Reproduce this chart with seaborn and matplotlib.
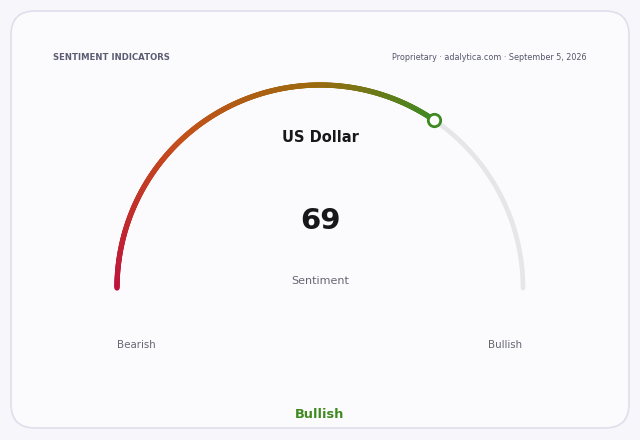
import numpy as np
import matplotlib
matplotlib.use("Agg")
import matplotlib.pyplot as plt
import seaborn as sns
from matplotlib.collections import LineCollection
from matplotlib.colors import LinearSegmentedColormap
from matplotlib.patches import FancyBboxPatch

# data
title = "SENTIMENT INDICATORS"
source = "Proprietary · adalytica.com · September 5, 2026"
asset = "US Dollar"
metric = "Sentiment"
value = 69
scale_min, scale_max = 0, 100
end_labels = ["Bearish", "Bullish"]
verdict = "Bullish"

grad_stops = [0.0, 0.38, 0.72, 1.0]
grad_colors = ["#be123c", "#c4501a", "#9c6a0e", "#3d8a22"]
bg = "#f7f7fb"
card = "#fbfbfe"

sns.set_theme(style="white")
plt.rcParams['font.family'] = ['DejaVu Sans']

fig = plt.figure(figsize=(6.4, 4.4), dpi=100, facecolor=bg)
ax = fig.add_axes([0, 0, 1, 1])
ax.set_xlim(0, 640)
ax.set_ylim(440, 0)
ax.set_facecolor(bg)
ax.axis("off")

ax.add_patch(FancyBboxPatch((11, 11), 618, 417, boxstyle="round,pad=0,rounding_size=24",
                            facecolor=card, edgecolor="#dedfea", linewidth=1.2))

cx, cy, r = 320, 288, 203
frac = (value - scale_min) / (scale_max - scale_min)

# background track
th = np.linspace(np.pi, 0, 300)
track = {"x": cx + r * np.cos(th), "y": cy - r * np.sin(th)}
sns.lineplot(x=track["x"], y=track["y"], sort=False, ax=ax, color="#e5e5ea",
             linewidth=3.4, solid_capstyle="round")

# gradient fill up to the value
th_v = np.linspace(np.pi, np.pi * (1 - frac), 400)
px = cx + r * np.cos(th_v)
py = cy - r * np.sin(th_v)
pts = np.column_stack([px, py]).reshape(-1, 1, 2)
segs = np.concatenate([pts[:-1], pts[1:]], axis=1)
cmap = LinearSegmentedColormap.from_list("g", list(zip(grad_stops, grad_colors)))
lc = LineCollection(segs, colors=cmap(np.linspace(0, 1, len(segs))), linewidth=3.8,
                    capstyle="round")
ax.add_collection(lc)

sns.scatterplot(x=[px[-1]], y=[py[-1]], ax=ax, s=80, facecolor="white",
                edgecolor=grad_colors[-1], linewidth=2, zorder=5)

ax.text(53, 57, title, fontsize=6.1, fontweight="bold", color="#5b5c72", va="center")
ax.text(587, 57, source, fontsize=5.8, color="#55566a", va="center", ha="right")
ax.text(cx, 137, asset, fontsize=10.5, fontweight="bold", color="#18181b", ha="center", va="center")
ax.text(cx, 221, str(value), fontsize=21, fontweight="bold", color="#18181b", ha="center", va="center")
ax.text(cx, 281, metric, fontsize=8, color="#666672", ha="center", va="center")
ax.text(136, 345, end_labels[0], fontsize=7.4, color="#666672", ha="center", va="center")
ax.text(505, 345, end_labels[1], fontsize=7.4, color="#666672", ha="center", va="center")
ax.text(cx, 414, verdict, fontsize=9.3, fontweight="bold", color="#3f8a1f", ha="center", va="center")

fig.savefig("out.png", dpi=100, facecolor=bg)
